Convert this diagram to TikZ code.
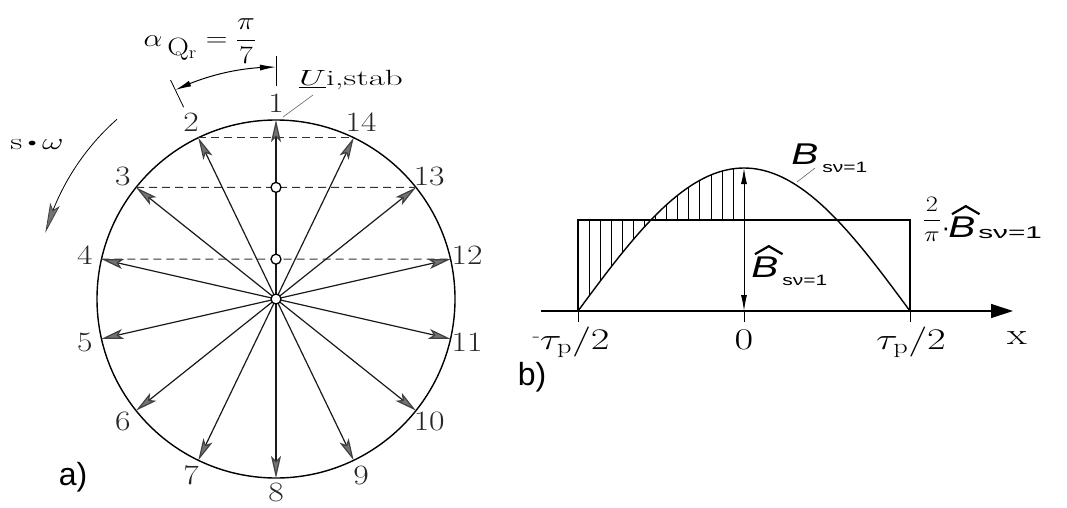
\RequirePackage{fix-cm}
\documentclass[tikz,border=0pt]{standalone}
\usepackage{fontspec}
\newfontfamily\sfx{Liberation Sans}
\usetikzlibrary{arrows.meta,calc,bending}
\tikzset{
  vec/.style={line width=1.2pt,black!90,-{Stealth[length=22pt,width=10pt,inset=5pt,fill=black!55,color=black!75]}},
  dsh/.style={line width=0.9pt,black!80,dash pattern=on 8pt off 5pt},
  hub/.style={circle,draw,line width=1.3pt,fill=white,minimum size=10pt,inner sep=0pt},
  num/.style={font=\fontsize{28}{30}\selectfont,xscale=1.2,inner sep=0pt,text=black!85},
  ticklab/.style={font=\fontsize{30}{32}\selectfont,xscale=1.35,inner sep=0pt,anchor=base},
  bsans/.style={font=\sfx\itshape\fontsize{30}{32}\selectfont,inner sep=0pt,anchor=base west,xscale=1.35},
  bsub/.style={font=\sfx\fontsize{15}{16}\selectfont,inner sep=0pt,anchor=base west,xscale=1.4},
  hatline/.style={line width=2.2pt,line join=miter},
  ablab/.style={font=\sfx\fontsize{32}{34}\selectfont,inner sep=0pt},
  thinl/.style={line width=0.6pt,black!60},
  dimar/.style={line width=1pt,{Latex[length=16pt,width=6pt]}-{Latex[length=16pt,width=6pt]}},
  ring/.style={line width=1.4pt},
  hatch/.style={line width=0.6pt},
  axis/.style={line width=1.2pt,-{Triangle[length=22pt,width=14pt]}},
}
\begin{document}
\begin{tikzpicture}[x=1pt,y=1pt]
\useasboundingbox (0,0) rectangle (1067,507);
% ---------- a) phasor star ----------
\coordinate (C) at (276,208);
\draw[ring] (C) circle[radius=179];
\foreach \k in {1,...,14}{
  \pgfmathsetmacro\ang{90+(\k-1)*360/14}
  \coordinate (p\k) at ($(C)+(\ang:179)$);
  \ifnum\k=8
    \node[num] (n\k) at ($(C)+(\ang:193)$) {\k};
  \else
    \node[num] (n\k) at ($(C)+(\ang:196)$) {\k};
  \fi
}
\draw[dsh] (p2) -- (p14);
\draw[dsh] (p3) -- (p13);
\draw[dsh] (p4) -- (p12);
\foreach \k in {1,...,14}{
  \draw[vec] (C) -- (p\k);
}
\node[hub] (h0) at (C) {};
\node[hub] (h1) at ($(p3)!0.5!(p13)$) {};
\node[hub] (h2) at ($(p4)!0.5!(p12)$) {};
% angle dimension
\coordinate (a1) at ($(C)+(90:232)$);
\draw[dimar] (a1) arc[start angle=90,end angle=115.714,radius=232];
\coordinate (t1a) at ($(C)+(90:213)$);
\coordinate (t1b) at ($(C)+(90:243)$);
\coordinate (t2a) at ($(C)+(115.714:213)$);
\coordinate (t2b) at ($(C)+(115.714:243)$);
\draw[line width=0.8pt] (t1a) -- (t1b);
\draw[line width=0.8pt] (t2a) -- (t2b);
\node[font=\fontsize{25}{27}\selectfont,xscale=1.2,inner sep=0pt] (alpha) at (200,466)
  {$\alpha_{\textstyle\,\mathrm{Q}_{\mathrm r}}=\displaystyle\frac{\pi}{7}$};
% U label
\node[font=\fontsize{22}{24}\selectfont,xscale=1.6,inner sep=0pt,anchor=base] (U) at (351,421)
  {$\underline{U}$i,stab};
\coordinate (u1) at (313,412);
\coordinate (u2) at (283,390);
\draw[thinl] (u1) -- (u2);
% rotation arrow
\coordinate (w1) at ($(C)+(131.5:240)$);
\draw[line width=0.8pt,-{Stealth[length=30pt,width=10pt,inset=6pt,fill=black!55,color=black!75]}]
  (w1) arc[start angle=131.5,end angle=164,radius=240];
\node[font=\fontsize{23}{24}\selectfont,xscale=1.45,inner sep=0pt] (sw) at (37,362)
  {s\,\raisebox{3pt}{\fontsize{12}{12}\selectfont$\bullet$}\,$\omega$};
\node[ablab] (la) at (73,30) {a)};
% ---------- b) field curve ----------
\coordinate (O) at (744,196);
\coordinate (xs) at (541,196);
\coordinate (xe) at (1013,196);
\foreach \k in {1,...,14}{
  \pgfmathsetmacro\xx{578+\k*166/15}
  \pgfmathsetmacro\yy{196+143*cos(0.5421687*(\xx-744))}
  \draw[hatch] (\xx,287) -- (\xx,\yy);
}
\draw[line width=1.2pt] (578,196) rectangle (910,287);
\draw[line width=1.4pt] plot[domain=-0.5:0.5,samples=81,smooth] ({744+332*\x},{196+143*cos(180*\x)});
\draw[axis] (xs) -- (xe);
\draw[line width=1pt] (578,196) -- (578,185);
\draw[line width=1pt] (744,196) -- (744,185);
\draw[line width=1pt] (910,196) -- (910,185);
\coordinate (pk) at (744,339);
\draw[dimar] (O) -- (pk);
\node[ticklab] (tl) at (571,158) {\raisebox{8pt}{\fontsize{18}{20}\selectfont -}$\tau_{\mathrm p}/2$};
\node[ticklab] (t0) at (744,158) {0};
\node[ticklab] (tr) at (911,158) {$\tau_{\mathrm p}/2$};
\node[ticklab] (tx) at (1017,163) {x};
% top label
\node[bsans] (Bt) at (791,343) {B};
\node[bsub] (Bts) at (822,335) {sν=1};
\coordinate (b1) at (815,339);
\coordinate (b2) at (797,325);
\draw[thinl] (b1) -- (b2);
% amplitude label
\node[bsans] (Bi) at (751,230) {B};
\node[bsub] (Bis) at (782,222) {sν=1};
\draw[hatline] ($(Bi.north west)+(4,2)$) -- ($(Bi.north)+(4,10)$) -- ($(Bi.north east)+(4,2)$);
% mean value label
\node[font=\fontsize{22}{24}\selectfont,xscale=1.2,inner sep=0pt] (frac) at (932,288) {$\displaystyle\frac{2}{\pi}$};
\node[font=\sfx\fontsize{26}{26}\selectfont,inner sep=0pt,anchor=base] (dot) at (946,271) {·};
\node[bsans] (Br) at (948,270) {B};
\node[bsub,font=\sfx\fontsize{17}{18}\selectfont,xscale=1.25] (Brs) at (978,269) {sν=1};
\draw[hatline] ($(Br.north west)+(4,2)$) -- ($(Br.north)+(4,10)$) -- ($(Br.north east)+(4,2)$);
\node[ablab] (lb) at (532,130) {b)};
\end{tikzpicture}
\end{document}
